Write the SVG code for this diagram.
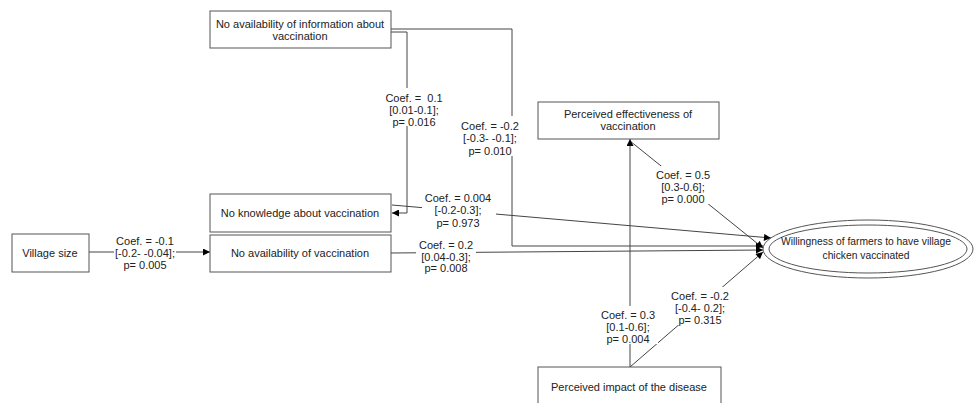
<svg xmlns="http://www.w3.org/2000/svg" width="974" height="403" viewBox="0 0 974 403">
<defs>
<marker id="arr" viewBox="0 0 10 10" refX="10" refY="5" markerWidth="8" markerHeight="7" markerUnits="userSpaceOnUse" orient="auto">
<path d="M0,0 L10,5 L0,10 z" fill="#000"/>
</marker>
<style>
.box{fill:#fff;stroke:#555;stroke-width:1}
.t{font-family:"Liberation Sans",Arial,sans-serif;font-size:11px;fill:#222;text-anchor:middle;white-space:pre}
.e{font-size:10.3px}
.ln{fill:none;stroke:#444;stroke-width:1}
.bg{fill:#fff}
</style>
</defs>
<rect width="974" height="403" fill="#fff"/>
<g id="connectors">
<polyline class="ln" points="391,29 512,29 512,246 763,246" marker-end="url(#arr)"/>
<polyline class="ln" points="391,32 407,32 407,213 392,213" marker-end="url(#arr)"/>
<line class="ln" x1="392" y1="205" x2="771" y2="238" marker-end="url(#arr)"/>
<line class="ln" x1="89" y1="252" x2="210" y2="252" marker-end="url(#arr)"/>
<line class="ln" x1="391" y1="253" x2="763" y2="250" marker-end="url(#arr)"/>
<line class="ln" x1="630" y1="141" x2="763" y2="248" marker-end="url(#arr)"/>
<line class="ln" x1="630" y1="367" x2="630" y2="139" marker-end="url(#arr)"/>
<line class="ln" x1="630" y1="367" x2="763" y2="252" marker-end="url(#arr)"/>
<rect class="bg" x="385" y="88" width="58" height="38"/>
<text class="t" x="414" y="102">Coef. =  0.1</text>
<text class="t" x="414" y="114">[0.01-0.1];</text>
<text class="t" x="414" y="126">p= 0.016</text>
<rect class="bg" x="460" y="116" width="60" height="40"/>
<text class="t" x="490" y="130">Coef. = -0.2</text>
<text class="t" x="490" y="142">[-0.3- -0.1];</text>
<text class="t" x="490" y="155">p= 0.010</text>
<rect class="bg" x="422" y="188" width="74" height="39"/>
<text class="t" x="458" y="202">Coef. = 0.004</text>
<text class="t" x="458" y="214">[-0.2-0.3];</text>
<text class="t" x="458" y="227">p= 0.973</text>
<rect class="bg" x="114" y="232" width="62" height="38"/>
<text class="t" x="145" y="245">Coef. = -0.1</text>
<text class="t" x="145" y="257">[-0.2- -0.04];</text>
<text class="t" x="145" y="269">p= 0.005</text>
<rect class="bg" x="416" y="235" width="60" height="38"/>
<text class="t" x="446" y="249">Coef. = 0.2</text>
<text class="t" x="446" y="261">[0.04-0.3];</text>
<text class="t" x="446" y="272">p= 0.008</text>
<rect class="bg" x="654" y="166" width="58" height="38"/>
<text class="t" x="683" y="179">Coef. = 0.5</text>
<text class="t" x="683" y="191">[0.3-0.6];</text>
<text class="t" x="683" y="203">p= 0.000</text>
<rect class="bg" x="600" y="306" width="58" height="38"/>
<text class="t" x="628" y="319">Coef. = 0.3</text>
<text class="t" x="628" y="331">[0.1-0.6];</text>
<text class="t" x="628" y="343">p= 0.004</text>
<rect class="bg" x="671" y="287" width="60" height="38"/>
<text class="t" x="700" y="300">Coef. = -0.2</text>
<text class="t" x="700" y="312">[-0.4- 0.2];</text>
<text class="t" x="700" y="324">p= 0.315</text>
</g>
<g id="info">
<rect class="box" x="210" y="11" width="181" height="37"/>
<text class="t" x="300" y="28">No availability of information about</text>
<text class="t" x="300" y="40">vaccination</text>
</g>
<g id="knowledge">
<rect class="box" x="210" y="194" width="181" height="38"/>
<text class="t" x="300" y="217">No knowledge about vaccination</text>
</g>
<g id="availability">
<rect class="box" x="210" y="235" width="181" height="37"/>
<text class="t" x="300" y="257">No availability of vaccination</text>
</g>
<g id="village">
<rect class="box" x="12" y="234" width="77" height="38"/>
<text class="t" x="50" y="257">Village size</text>
</g>
<g id="effectiveness">
<rect class="box" x="538" y="102" width="181" height="37"/>
<text class="t" x="628" y="118">Perceived effectiveness of</text>
<text class="t" x="628" y="130">vaccination</text>
</g>
<g id="impact">
<rect class="box" x="538" y="367" width="183" height="40"/>
<text class="t" x="629" y="391">Perceived impact of the disease</text>
</g>
<g id="willingness">
<ellipse class="box" cx="868" cy="249" rx="105" ry="29"/>
<ellipse class="box" cx="868" cy="249" rx="99" ry="24"/>
<text class="t e" x="866" y="245">Willingness of farmers to have village</text>
<text class="t e" x="866" y="259">chicken vaccinated</text>
</g>
</svg>
